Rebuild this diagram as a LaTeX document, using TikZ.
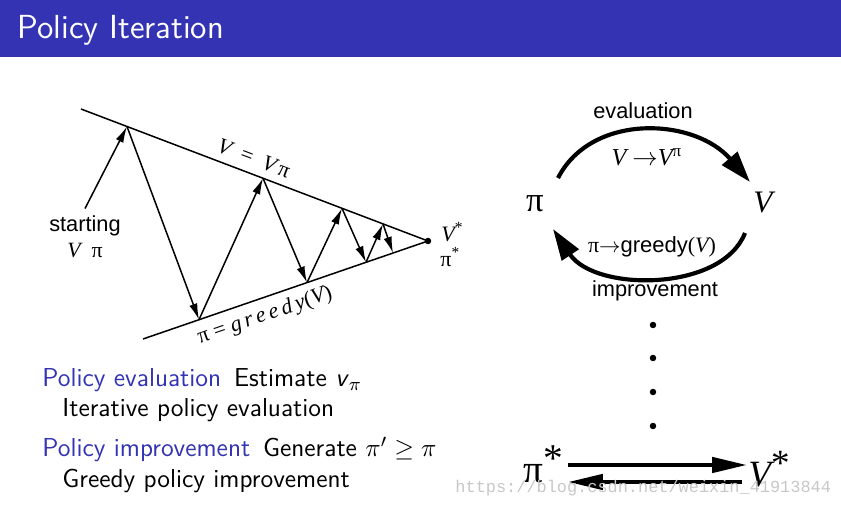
\documentclass[tikz,border=0pt]{standalone}
\usepackage{amsmath,amssymb}
\usepackage{fontspec}
\usepackage{xcolor}
\usetikzlibrary{arrows.meta,calc}
\newfontfamily\figsans{Liberation Sans}
\newfontfamily\figserif{Liberation Serif}
\newfontfamily\wmfont{Liberation Mono}
\definecolor{slideblue}{RGB}{51,51,179}
\tikzset{
  guide/.style={line width=0.65pt},
  zig/.style={-{Latex[length=7pt,width=3.6pt]}, line width=0.65pt},
  cyclearc/.style={-{Triangle[length=13.5pt,width=8.5pt]}, line width=1.8pt},
  limitarrow/.style={-{Triangle[length=15pt,width=6.5pt]}, line width=1.8pt},
  sanslabel/.style={font=\figsans\fontsize{9.4}{11.2}\selectfont, inner sep=0pt, align=center},
  seriflabel/.style={font=\figserif\fontsize{9.5}{11.2}\selectfont, inner sep=0pt},
  bigsym/.style={font=\figserif\fontsize{15}{17}\selectfont, inner sep=0pt, anchor=base},
  dotpt/.style={circle, fill=black, inner sep=0pt, minimum size=2.8pt},
  slidetext/.style={font=\sffamily\fontsize{11.2}{14}\selectfont, anchor=base west, inner sep=0pt},
  titletext/.style={font=\sffamily\fontsize{14.4}{17}\selectfont, text=white, anchor=base west, inner sep=0pt},
  watermark/.style={font=\wmfont\fontsize{7.3}{8}\selectfont, text=black!22, anchor=base west, inner sep=0pt}
}
\newcommand{\optmark}{\raisebox{5pt}{*}}
\begin{document}
\begin{tikzpicture}[x=0.4316pt,y=-0.4316pt]
\useasboundingbox (0,0) rectangle (841,509);
% title bar
\fill[slideblue] (0,0) rectangle (841,57);
\node[titletext] (title) at (17,39) {Policy Iteration};

% convergence wedge
\node[dotpt] (limit) at (428,241) {};
\coordinate (vline) at (81,109);
\coordinate (piline) at (143,339);
\draw[guide] (vline) -- (limit.center) -- (piline);
\node[seriflabel, rotate=-20.8] (vlabel) at (254,158)
  {\itshape V\enspace\upshape=\enspace\itshape V\,\upshape π};
\node[seriflabel, rotate=19] (pilabel) at (265,316)
  {π = \itshape g\,r\,e\,e\,d\,y\upshape(\itshape V\upshape)};
\node[sanslabel] (start) at (85,237)
  {starting\\{\figserif\itshape V\upshape\ \ π}};
\node[seriflabel, anchor=west] (vstar) at (441,232) {\itshape V\upshape\textsuperscript{*}};
\node[seriflabel, anchor=west] (pistar) at (440,257) {π\textsuperscript{*}};

% zigzag between the two lines
\coordinate (z1) at (127,126.5);
\coordinate (z2) at (199,319.7);
\coordinate (z3) at (263,178.2);
\coordinate (z4) at (307,282.6);
\coordinate (z5) at (342,208.3);
\coordinate (z6) at (366,262.3);
\coordinate (z7) at (383,223.9);
\coordinate (z8) at (393,253);
\draw[zig] ([yshift=3pt]start.north) -- (z1);
\foreach \a/\b in {z1/z2,z2/z3,z3/z4,z4/z5,z5/z6,z6/z7,z7/z8}
  \draw[zig] (\a) -- (\b);

% evaluation / improvement cycle
\node[bigsym] (pol) at (535,212) {π};
\node[bigsym, font=\figserif\fontsize{13.5}{16}\selectfont] (val) at (763,213) {\itshape V};
\coordinate (evalfrom) at (558,178);
\coordinate (evalto) at (750,182);
\coordinate (imprfrom) at (745,233);
\coordinate (imprto) at (553,229);
\draw[cyclearc] (evalfrom) .. controls (592,112) and (695,118) .. (evalto);
\draw[cyclearc] (imprfrom) .. controls (722,292) and (595,292) .. (imprto);
\node[sanslabel] (evaltxt) at (643,111) {evaluation};
\node[seriflabel, font=\figserif\fontsize{10.5}{12}\selectfont] (evalmap) at (647,157)
  {\itshape V\upshape\ $\rightarrow$\itshape V\upshape\textsuperscript{π}};
\node[seriflabel] (imprmap) at (652,247) {π$\rightarrow${\figsans greedy}(\itshape V\upshape)};
\node[sanslabel] (imprtxt) at (655,291) {improvement};

\foreach \y in {325,358,392,426}
  \node[dotpt] (dot\y) at (653,\y) {};

% optimal pair
\node[bigsym, font=\figserif\fontsize{17}{19}\selectfont] (optpi) at (543,483) {π\optmark};
\node[bigsym, font=\figserif\fontsize{16}{19}\selectfont] (optv) at (769,487) {\itshape V\upshape\optmark};
\coordinate (fwdfrom) at (568,465);
\coordinate (fwdto) at (747,465);
\coordinate (backfrom) at (742,482);
\coordinate (backto) at (568,482);
\draw[limitarrow] (fwdfrom) -- (fwdto);
\draw[limitarrow] (backfrom) -- (backto);

% slide text
\node[slidetext] (evalhead) at (42,387)
  {\textcolor{slideblue}{Policy evaluation}\hspace{0.5em}Estimate \textit{v}$_\pi$};
\node[slidetext] (evaldesc) at (62,417) {Iterative policy evaluation};
\node[slidetext] (imphead) at (42,457)
  {\textcolor{slideblue}{Policy improvement}\hspace{0.5em}Generate $\pi' \geq \pi$};
\node[slidetext] (impdesc) at (62,488) {Greedy policy improvement};

\node[watermark] (mark) at (455,493) {https://blog.csdn.net/weixin\_41913844};
\end{tikzpicture}
\end{document}
